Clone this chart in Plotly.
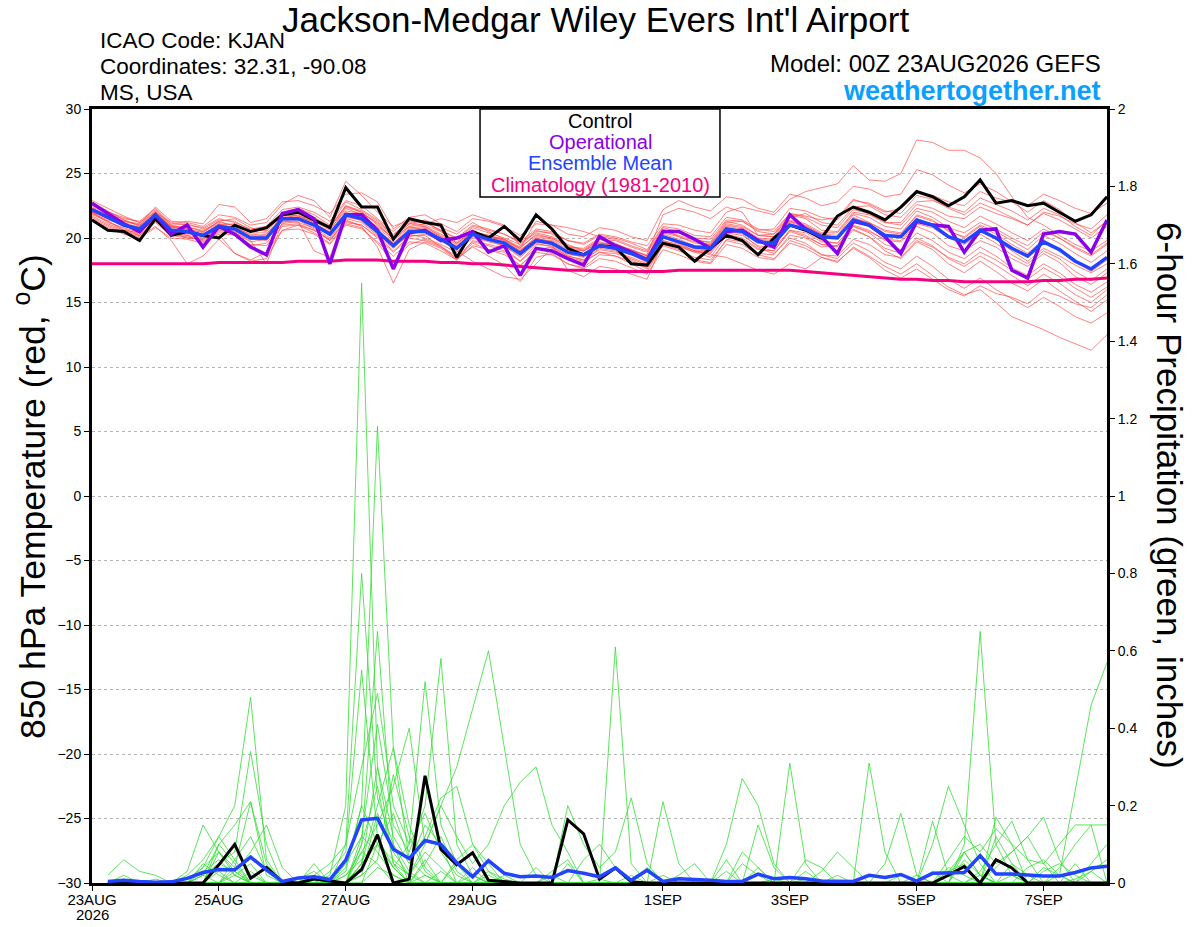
import pandas as pd
import plotly.graph_objects as go

# 6-hourly GEFS steps, 0..384 h
times = pd.date_range("2026-08-23 00:00", periods=65, freq="6h")

tick_dates = ["2026-08-23", "2026-08-25", "2026-08-27", "2026-08-29",
              "2026-09-01", "2026-09-03", "2026-09-05", "2026-09-07"]
tick_labels = ["23AUG", "25AUG", "27AUG", "29AUG",
               "1SEP", "3SEP", "5SEP", "7SEP"]
start_year = "2026"

# 850 hPa temperature (C)
control_t = [
    21.4, 20.6, 20.5, 19.8, 21.5, 20.2, 20.5, 20.2, 20.0, 21.0, 20.5, 20.8, 21.8,
    22.0, 21.4, 20.8, 23.9, 22.4, 22.4, 19.9, 21.5, 21.2, 21.0, 18.5, 20.5, 20.0,
    20.9, 19.8, 21.8, 20.7, 19.2, 18.7, 19.4, 19.3, 18.0, 17.9, 19.6, 19.3, 18.2,
    19.2, 20.2, 19.8, 18.7, 20.0, 21.0, 20.6, 20.0, 21.7, 22.4, 22.0, 21.4, 22.4,
    23.6, 23.2, 22.5, 23.2, 24.5, 22.7, 22.9, 22.5, 22.7, 22.0, 21.3, 21.8, 23.2]

oper_t = [
    22.7, 21.9, 21.1, 20.5, 21.8, 20.3, 21.0, 19.3, 20.9, 20.3, 19.3, 18.7, 21.9,
    22.2, 21.5, 18.0, 21.8, 21.8, 20.6, 17.6, 20.4, 20.6, 19.8, 20.0, 20.5, 18.9,
    19.4, 17.1, 19.2, 19.0, 18.4, 17.9, 20.1, 19.4, 18.9, 18.3, 20.5, 20.5, 19.9,
    19.2, 20.5, 20.6, 19.8, 19.3, 21.8, 20.7, 20.1, 18.8, 21.3, 21.0, 20.1, 18.8,
    21.3, 21.0, 20.9, 18.9, 20.6, 20.7, 17.5, 16.9, 20.3, 20.5, 20.3, 18.9, 21.4]

mean_t = [
    22.2, 21.6, 21.0, 20.7, 21.8, 20.6, 20.5, 20.2, 20.9, 20.7, 20.0, 20.0, 21.5,
    21.5, 21.0, 20.3, 21.8, 21.5, 20.5, 19.4, 20.5, 20.5, 19.9, 19.2, 20.3, 19.9,
    19.6, 18.8, 19.8, 19.6, 18.9, 18.7, 19.4, 19.2, 18.8, 18.3, 20.1, 19.7, 19.3,
    19.2, 20.7, 20.5, 19.7, 19.6, 21.0, 20.7, 20.1, 20.0, 21.4, 21.0, 20.2, 20.1,
    21.4, 21.0, 20.1, 19.7, 20.6, 20.0, 19.2, 18.6, 19.7, 19.1, 18.2, 17.6, 18.5]

clim_t = [
    18.0, 18.0, 18.0, 18.0, 18.0, 18.0, 18.0, 18.0, 18.1, 18.1, 18.1, 18.1, 18.1,
    18.2, 18.2, 18.2, 18.3, 18.3, 18.3, 18.2, 18.2, 18.2, 18.1, 18.1, 18.0, 18.0,
    17.9, 17.8, 17.7, 17.6, 17.5, 17.5, 17.4, 17.4, 17.4, 17.4, 17.4, 17.5, 17.5,
    17.5, 17.5, 17.5, 17.5, 17.5, 17.5, 17.4, 17.3, 17.2, 17.1, 17.0, 16.9, 16.8,
    16.8, 16.7, 16.7, 16.6, 16.6, 16.6, 16.6, 16.6, 16.7, 16.7, 16.8, 16.8, 16.9]

members_t = [
    [22.0, 21.2, 20.8, 20.4, 21.5, 20.9, 20.8, 20.6, 21.2, 21.0, 20.5, 20.7, 21.9,
     22.3, 21.8, 21.0, 22.8, 22.2, 21.4, 20.3, 21.2, 21.0, 20.5, 19.7, 20.8, 20.4,
     20.0, 19.5, 20.6, 20.3, 19.5, 19.0, 19.9, 19.8, 19.3, 18.9, 20.6, 20.4, 19.9,
     19.6, 21.2, 21.3, 20.5, 20.3, 21.6, 21.9, 21.2, 21.0, 22.4, 22.5, 21.8, 21.6,
     22.8, 22.9, 22.4, 22.0, 23.1, 22.6, 22.1, 21.4, 22.3, 21.8, 20.9, 20.2, 21.4],
    [22.4, 21.9, 21.4, 21.0, 22.1, 20.8, 20.9, 20.5, 21.3, 20.9, 20.2, 20.1, 21.7,
     21.9, 21.3, 20.8, 22.5, 22.0, 21.1, 19.9, 20.9, 21.1, 21.5, 21.2, 21.8, 21.4,
     21.0, 19.4, 20.5, 20.4, 19.8, 19.6, 20.3, 20.1, 19.7, 19.4, 21.1, 21.0, 20.6,
     20.4, 22.0, 22.4, 22.1, 21.8, 23.0, 23.6, 23.9, 24.2, 25.6, 24.5, 24.4, 25.0,
     27.6, 27.4, 26.8, 26.8, 26.2, 25.0, 23.2, 21.6, 21.0, 20.2, 19.5, 19.0, 19.8],
    [21.8, 21.3, 20.6, 20.2, 21.3, 20.3, 20.1, 19.8, 20.5, 20.3, 19.5, 19.4, 20.9,
     21.0, 20.6, 19.8, 21.2, 21.0, 20.0, 18.9, 20.0, 19.8, 19.3, 18.6, 19.7, 19.4,
     19.0, 18.2, 19.2, 19.0, 18.4, 18.1, 18.9, 18.6, 18.2, 17.6, 19.4, 19.0, 18.5,
     18.3, 19.8, 19.5, 18.7, 18.4, 19.6, 19.2, 18.5, 18.1, 19.3, 18.6, 17.8, 17.2,
     18.0, 17.1, 16.2, 15.6, 16.0, 15.0, 13.9, 13.4, 12.9, 12.3, 11.8, 11.3, 12.5],
    [22.6, 21.8, 21.3, 21.1, 22.4, 21.3, 21.2, 20.9, 21.8, 21.6, 21.0, 21.2, 22.6,
     23.3, 22.9, 21.6, 24.4, 23.3, 22.0, 20.9, 21.4, 21.2, 20.6, 20.0, 21.0, 20.7,
     20.3, 19.6, 20.4, 20.1, 19.4, 19.1, 19.9, 19.5, 19.1, 18.6, 20.7, 20.1, 19.6,
     19.5, 21.0, 20.8, 20.0, 19.9, 21.3, 20.9, 20.3, 20.2, 21.8, 21.2, 20.6, 20.4,
     21.7, 21.3, 20.6, 20.0, 20.9, 20.3, 19.5, 18.8, 19.9, 19.0, 18.2, 17.4, 18.3],
    [21.5, 20.9, 20.4, 20.1, 20.9, 19.8, 18.0, 18.6, 19.9, 18.8, 18.3, 18.9, 20.6,
     21.0, 20.4, 19.6, 21.1, 20.8, 19.6, 18.1, 19.5, 19.9, 19.4, 18.4, 19.6, 19.1,
     18.9, 17.8, 19.1, 19.3, 18.6, 18.3, 19.2, 19.0, 18.3, 17.7, 19.5, 19.3, 18.9,
     18.5, 20.2, 19.9, 19.1, 19.0, 20.5, 20.1, 19.5, 19.3, 20.6, 20.1, 19.0, 18.4,
     19.7, 19.1, 18.0, 17.3, 18.2, 17.4, 16.5, 15.9, 16.8, 15.9, 15.1, 14.3, 15.2],
    [22.9, 22.3, 21.7, 21.2, 22.0, 21.0, 20.7, 20.4, 21.3, 21.5, 20.8, 20.5, 21.8,
     21.7, 21.4, 20.7, 22.1, 21.9, 21.2, 20.1, 21.1, 21.4, 20.8, 20.3, 21.2, 20.5,
     19.9, 19.3, 20.2, 20.0, 19.3, 19.2, 20.0, 19.6, 19.0, 18.7, 21.8, 22.3, 22.0,
     21.5, 22.4, 22.0, 20.2, 20.1, 21.8, 21.5, 20.6, 20.5, 22.0, 21.8, 21.2, 21.2,
     22.6, 22.3, 21.7, 21.5, 22.4, 21.9, 21.5, 21.0, 22.0, 21.7, 21.1, 20.7, 21.8],
    [22.1, 21.5, 20.9, 20.6, 21.6, 20.5, 20.4, 20.1, 20.7, 20.4, 19.7, 19.9, 21.3,
     21.2, 20.8, 20.0, 21.5, 21.2, 20.2, 19.2, 20.3, 20.0, 19.5, 18.9, 20.0, 19.8,
     19.4, 18.6, 19.7, 19.5, 17.5, 17.0, 17.8, 17.6, 17.2, 16.8, 19.7, 19.4, 18.9,
     18.9, 20.4, 20.2, 19.4, 19.2, 20.6, 20.2, 19.5, 19.4, 20.7, 20.1, 19.2, 18.8,
     20.0, 19.4, 18.4, 17.8, 18.6, 17.9, 17.1, 16.3, 17.2, 16.5, 15.6, 15.0, 16.0],
    [21.9, 21.4, 21.0, 20.9, 21.9, 20.7, 20.6, 20.3, 21.0, 20.8, 20.3, 20.2, 21.6,
     21.5, 21.1, 20.5, 22.0, 21.6, 20.7, 19.6, 20.6, 20.7, 20.1, 19.4, 20.4, 20.1,
     19.7, 19.0, 20.1, 19.9, 19.1, 19.0, 19.7, 19.4, 19.0, 18.5, 20.4, 20.1, 19.7,
     19.5, 21.1, 20.9, 20.2, 20.3, 21.9, 21.7, 21.4, 21.6, 23.0, 22.6, 22.0, 22.3,
     23.5, 23.3, 22.8, 22.5, 23.6, 23.1, 22.8, 22.5, 23.4, 22.9, 22.3, 21.9, 22.7],
    [22.3, 21.7, 21.2, 20.8, 21.7, 20.4, 20.0, 19.9, 20.6, 20.4, 19.8, 18.0, 21.2,
     21.4, 20.7, 19.8, 21.4, 20.9, 19.3, 16.5, 19.1, 19.7, 19.2, 18.3, 19.8, 19.5,
     19.2, 18.2, 19.5, 19.4, 18.7, 18.6, 19.4, 19.1, 18.7, 18.1, 20.0, 19.8, 19.1,
     19.0, 20.6, 20.3, 19.3, 19.0, 20.6, 20.4, 19.7, 19.6, 21.0, 20.6, 19.8, 19.7,
     20.9, 20.4, 19.4, 19.0, 19.8, 19.3, 18.4, 17.8, 18.8, 18.1, 17.0, 16.4, 17.3],
    [22.0, 21.6, 21.1, 20.5, 21.4, 20.6, 20.3, 20.3, 21.0, 21.1, 20.4, 20.4, 21.4,
     21.6, 21.3, 20.6, 22.3, 21.8, 20.8, 19.8, 20.8, 20.9, 20.3, 19.6, 20.6, 20.1,
     19.9, 19.1, 19.9, 19.8, 19.0, 18.8, 19.6, 19.4, 18.9, 18.4, 20.3, 19.9, 19.4,
     19.4, 20.9, 20.7, 19.9, 19.8, 21.2, 20.9, 20.2, 20.0, 21.6, 21.1, 20.3, 20.2,
     21.5, 21.0, 20.0, 19.5, 20.3, 19.6, 18.7, 18.0, 19.0, 18.4, 17.4, 16.7, 17.6],
    [21.7, 21.1, 20.6, 20.4, 21.5, 20.4, 20.2, 19.7, 20.4, 20.2, 19.4, 19.6, 21.1,
     21.3, 19.0, 18.5, 21.9, 21.3, 20.3, 19.3, 20.2, 20.2, 19.3, 18.4, 19.3, 18.6,
     17.9, 16.6, 18.5, 18.8, 18.0, 17.7, 18.7, 18.6, 18.0, 17.4, 19.5, 19.1, 18.3,
     18.1, 19.9, 19.7, 18.8, 18.7, 20.2, 20.0, 19.3, 19.4, 20.9, 20.5, 19.9, 19.8,
     21.1, 20.8, 20.0, 19.7, 20.5, 19.9, 19.0, 18.2, 19.2, 18.6, 17.9, 17.3, 18.0],
    [22.5, 22.0, 21.5, 21.3, 22.3, 21.1, 21.3, 21.1, 22.6, 22.4, 21.2, 21.5, 22.8,
     22.9, 22.5, 21.9, 23.4, 23.5, 22.8, 20.7, 21.6, 21.8, 21.1, 20.5, 21.5, 21.3,
     20.9, 20.2, 21.1, 21.0, 20.3, 20.1, 20.8, 20.6, 20.1, 19.8, 22.2, 22.9, 22.4,
     22.1, 23.2, 23.0, 22.3, 22.0, 23.4, 23.1, 22.5, 22.8, 24.0, 23.8, 23.2, 23.4,
     25.3, 24.9, 24.1, 23.5, 24.2, 23.6, 22.8, 22.0, 22.9, 22.2, 21.2, 20.4, 21.3],
    [21.6, 21.0, 20.5, 20.2, 21.2, 20.2, 20.0, 19.9, 20.8, 20.6, 20.1, 20.0, 21.0,
     21.1, 20.6, 19.9, 21.3, 21.0, 20.1, 19.0, 20.1, 20.3, 19.8, 19.0, 18.2, 17.6,
     17.0, 16.8, 18.0, 19.2, 18.5, 18.2, 18.9, 18.8, 18.4, 17.9, 19.8, 19.4, 19.0,
     18.8, 20.3, 20.0, 19.2, 18.8, 20.0, 19.6, 18.7, 18.4, 19.6, 19.0, 18.1, 17.6,
     18.6, 17.8, 16.8, 16.1, 16.9, 16.0, 15.3, 14.6, 15.4, 14.7, 13.9, 13.4, 14.2],
    [22.7, 22.1, 21.4, 20.9, 21.9, 20.9, 20.7, 20.2, 21.1, 20.8, 20.0, 19.8, 21.5,
     21.8, 21.2, 20.4, 21.8, 21.6, 20.9, 20.0, 21.1, 20.9, 20.1, 19.3, 20.2, 19.9,
     19.6, 18.9, 20.0, 19.7, 18.9, 18.6, 19.5, 19.3, 18.8, 18.3, 20.2, 19.7, 19.2,
     19.2, 20.8, 20.6, 19.8, 19.7, 21.3, 21.0, 20.3, 20.0, 21.5, 21.2, 20.5, 20.3,
     21.8, 21.4, 20.5, 20.1, 21.0, 20.5, 19.8, 19.1, 20.2, 19.6, 18.8, 18.1, 19.0],
    [22.2, 21.7, 21.3, 21.0, 22.0, 21.2, 21.0, 20.8, 21.5, 21.2, 20.7, 20.9, 22.2,
     22.4, 22.0, 21.3, 22.9, 22.5, 21.5, 20.5, 21.5, 21.3, 20.5, 19.6, 20.5, 20.2,
     19.8, 19.0, 20.0, 19.6, 18.8, 18.5, 19.3, 19.2, 18.7, 18.2, 20.0, 19.6, 19.0,
     19.0, 20.6, 20.4, 19.7, 19.5, 21.0, 20.6, 19.8, 19.6, 20.9, 20.4, 19.5, 19.1,
     20.4, 19.8, 18.9, 18.4, 19.3, 18.6, 17.7, 17.1, 18.0, 17.3, 16.4, 15.8, 16.6],
    [21.4, 20.8, 20.3, 20.0, 20.8, 20.0, 19.9, 19.6, 20.3, 18.8, 18.2, 18.4, 20.6,
     20.7, 20.3, 19.5, 21.0, 20.7, 19.7, 18.6, 19.7, 19.6, 19.0, 18.3, 19.4, 19.1,
     18.7, 17.9, 18.9, 18.7, 18.0, 17.6, 18.4, 18.2, 17.7, 17.2, 19.1, 18.7, 18.2,
     18.0, 19.5, 19.2, 18.5, 18.3, 19.8, 19.4, 18.7, 18.6, 19.9, 19.5, 18.7, 18.5,
     19.8, 19.3, 18.5, 18.0, 18.9, 18.3, 17.5, 16.8, 17.7, 17.0, 16.1, 15.4, 16.2],
    [22.8, 22.0, 21.6, 21.2, 22.2, 21.0, 21.1, 20.7, 21.4, 21.3, 20.6, 20.7, 22.0,
     22.0, 21.6, 20.9, 22.5, 22.1, 21.3, 20.2, 21.3, 21.2, 20.6, 19.9, 20.9, 20.6,
     20.3, 19.7, 20.7, 20.5, 19.8, 19.5, 20.2, 20.0, 19.6, 19.1, 20.9, 20.7, 20.2,
     20.1, 21.6, 21.4, 20.7, 20.5, 21.9, 21.6, 21.0, 20.8, 22.2, 21.9, 21.2, 21.0,
     22.3, 22.0, 21.3, 20.8, 21.7, 21.1, 20.4, 19.8, 20.7, 20.0, 19.2, 18.6, 19.5],
    [21.9, 21.3, 20.7, 20.3, 21.3, 20.5, 20.2, 20.0, 20.9, 20.5, 19.9, 19.9, 21.3,
     21.5, 21.1, 20.3, 21.7, 21.4, 20.4, 19.4, 20.4, 20.5, 19.8, 19.1, 20.1, 19.7,
     19.4, 18.5, 19.6, 19.3, 18.6, 18.3, 19.1, 18.9, 18.5, 18.0, 19.8, 19.5, 19.0,
     18.7, 18.5, 18.0, 17.5, 17.2, 18.0, 17.6, 18.5, 18.2, 19.2, 18.5, 17.5, 16.9,
     17.6, 16.8, 16.0, 15.5, 16.3, 15.7, 15.4, 14.9, 15.9, 15.5, 14.9, 14.6, 15.6],
    [22.3, 21.8, 21.2, 20.6, 21.6, 20.7, 20.6, 20.5, 21.1, 20.6, 20.0, 20.3, 21.7,
     21.7, 21.2, 20.3, 21.6, 21.4, 20.6, 19.6, 20.7, 20.8, 20.2, 19.5, 20.5, 20.2,
     19.8, 19.2, 20.3, 20.0, 19.3, 19.0, 19.6, 19.5, 19.1, 18.6, 20.5, 20.2, 19.8,
     19.7, 21.3, 21.0, 20.2, 20.1, 21.4, 21.1, 20.4, 20.4, 21.9, 21.6, 20.9, 20.7,
     22.1, 21.6, 20.8, 20.4, 21.2, 20.7, 20.0, 19.4, 20.5, 20.0, 19.3, 18.7, 19.6],
    [22.0, 21.5, 21.0, 20.7, 21.8, 20.9, 20.5, 20.1, 20.8, 20.9, 20.5, 20.6, 21.8,
     22.1, 21.5, 20.8, 22.4, 22.0, 21.0, 20.0, 20.9, 20.6, 19.9, 19.2, 20.3, 20.2,
     19.9, 19.2, 21.3, 21.0, 20.8, 20.5, 20.1, 19.9, 19.4, 19.0, 20.8, 20.5, 20.0,
     19.9, 21.4, 21.3, 20.6, 20.7, 22.3, 22.1, 21.6, 21.4, 22.9, 22.7, 22.1, 21.9,
     23.3, 23.0, 22.3, 21.8, 22.7, 22.2, 21.6, 21.0, 21.9, 21.4, 20.7, 20.0, 20.9],
]

# 6-hour precipitation (inches), steps 6..384 h
control_p = [
    0, 0, 0, 0, 0, 0, 0, 0.047, 0.1, 0.012, 0.04, 0.003, 0, 0.01, 0.005, 0,
    0.035, 0.125, 0, 0.01, 0.277, 0.087, 0.047, 0.078, 0.007, 0.003, 0, 0, 0, 0.163, 0.127, 0.01,
    0.039, 0.003, 0, 0, 0, 0, 0, 0, 0, 0, 0, 0, 0, 0, 0, 0,
    0, 0, 0, 0, 0, 0.02, 0.043, 0, 0.06, 0.039, 0, 0, 0, 0, 0, 0]

mean_p = [
    0.004, 0.007, 0.004, 0.002, 0.003, 0.012, 0.027, 0.035, 0.034, 0.067, 0.034, 0.004, 0.013, 0.016, 0.009, 0.059,
    0.163, 0.167, 0.087, 0.063, 0.11, 0.1, 0.052, 0.016, 0.058, 0.025, 0.016, 0.018, 0.014, 0.032, 0.025, 0.016,
    0.039, 0.007, 0.033, 0.004, 0.011, 0.01, 0.007, 0.004, 0.004, 0.023, 0.011, 0.014, 0.011, 0.005, 0.005, 0.004,
    0.02, 0.014, 0.022, 0.005, 0.025, 0.027, 0.027, 0.071, 0.023, 0.023, 0.02, 0.018, 0.018, 0.027, 0.039, 0.043]

members_p = [
    [0, 0.01, 0, 0, 0, 0, 0.02, 0.05, 0.03, 0, 0, 0, 0.01, 0, 0.02, 0.2,
     1.55, 0.3, 0.05, 0.02, 0.08, 0.04, 0, 0, 0.03, 0.01, 0, 0, 0.02, 0, 0, 0.01,
     0, 0, 0, 0.02, 0, 0, 0, 0, 0, 0.04, 0, 0, 0.01, 0, 0, 0,
     0, 0, 0.02, 0, 0, 0.03, 0.05, 0, 0, 0.02, 0, 0, 0, 0.01, 0.03, 0],
    [0, 0, 0, 0, 0, 0.01, 0.04, 0.08, 0.02, 0, 0, 0, 0, 0, 0, 0.03,
     0.2, 1.18, 0.35, 0.06, 0.02, 0, 0.05, 0.02, 0, 0, 0, 0.04, 0, 0, 0, 0,
     0, 0, 0, 0, 0.02, 0.05, 0, 0, 0, 0, 0.01, 0, 0, 0, 0, 0,
     0, 0, 0, 0, 0.03, 0, 0.06, 0.02, 0, 0, 0, 0.04, 0.02, 0, 0, 0],
    [0, 0, 0, 0, 0, 0.02, 0.06, 0.12, 0.2, 0.48, 0.06, 0, 0, 0.01, 0, 0.1,
     0.8, 0.22, 0.1, 0.03, 0, 0, 0, 0.02, 0, 0, 0, 0, 0, 0.05, 0, 0,
     0, 0.02, 0, 0, 0, 0, 0, 0.03, 0, 0, 0, 0, 0, 0, 0.02, 0,
     0, 0, 0, 0, 0, 0, 0, 0.02, 0, 0, 0, 0, 0, 0.05, 0, 0],
    [0, 0, 0, 0.01, 0, 0, 0, 0.05, 0.08, 0.34, 0.1, 0, 0, 0, 0.03, 0.08,
     0.55, 0.12, 0.04, 0, 0.02, 0, 0, 0, 0, 0, 0, 0, 0, 0, 0, 0,
     0.61, 0.05, 0, 0, 0, 0, 0, 0, 0, 0, 0, 0, 0, 0, 0, 0,
     0, 0, 0, 0, 0, 0.04, 0.02, 0, 0, 0, 0, 0, 0, 0, 0, 0],
    [0, 0, 0, 0, 0, 0.03, 0.15, 0.08, 0.04, 0.21, 0.02, 0, 0, 0.02, 0.05, 0.1,
     0.3, 0.49, 0.2, 0.1, 0.52, 0.15, 0.05, 0, 0.02, 0, 0, 0, 0.03, 0.06, 0, 0,
     0, 0, 0, 0, 0, 0, 0, 0, 0.05, 0.02, 0, 0, 0, 0, 0, 0,
     0, 0, 0, 0.02, 0, 0, 0, 0, 0, 0, 0, 0, 0, 0, 0, 0],
    [0, 0, 0, 0, 0, 0, 0.02, 0.1, 0.05, 0, 0, 0, 0, 0, 0, 0.05,
     0.12, 0.41, 0.15, 0.08, 0.2, 0.58, 0.1, 0.02, 0, 0, 0, 0, 0, 0, 0, 0,
     0, 0, 0, 0, 0, 0, 0, 0, 0, 0, 0, 0.31, 0.05, 0, 0, 0,
     0, 0, 0, 0, 0, 0.03, 0.08, 0.02, 0, 0, 0, 0, 0, 0, 0, 0],
    [0, 0.02, 0, 0, 0, 0, 0, 0, 0.06, 0.12, 0.03, 0, 0, 0, 0, 0.02,
     0.08, 0.15, 0.25, 0.4, 0.1, 0.2, 0.3, 0.45, 0.6, 0.35, 0.1, 0.02, 0, 0, 0, 0,
     0, 0, 0, 0, 0, 0, 0, 0, 0, 0, 0, 0, 0, 0, 0, 0,
     0, 0, 0, 0, 0, 0, 0, 0, 0.12, 0.05, 0, 0, 0, 0, 0, 0],
    [0, 0, 0, 0, 0, 0, 0, 0.03, 0, 0, 0, 0, 0, 0.02, 0, 0,
     0.05, 0.1, 0.04, 0, 0, 0.03, 0, 0, 0, 0, 0, 0, 0, 0, 0, 0,
     0, 0, 0, 0, 0, 0, 0, 0, 0, 0, 0, 0, 0, 0, 0, 0,
     0, 0, 0, 0, 0, 0, 0.1, 0.65, 0.1, 0.02, 0, 0, 0, 0, 0, 0],
    [0, 0, 0, 0, 0, 0, 0.02, 0, 0.04, 0, 0, 0, 0, 0, 0, 0,
     0.1, 0.25, 0.05, 0, 0, 0, 0, 0, 0, 0, 0, 0, 0, 0, 0, 0,
     0, 0, 0, 0, 0, 0, 0, 0, 0, 0, 0, 0, 0, 0, 0, 0,
     0, 0, 0, 0, 0, 0, 0, 0, 0, 0, 0, 0, 0.02, 0.24, 0.46, 0.57],
    [0, 0, 0, 0, 0, 0, 0, 0.05, 0.1, 0.02, 0, 0, 0, 0, 0, 0,
     0.05, 0.3, 0.12, 0.05, 0.15, 0.1, 0, 0, 0, 0, 0, 0, 0, 0, 0, 0,
     0, 0, 0, 0.21, 0.05, 0, 0, 0, 0, 0, 0, 0, 0.03, 0, 0, 0,
     0.31, 0.08, 0, 0, 0, 0, 0, 0, 0, 0, 0, 0, 0, 0, 0, 0],
    [0, 0, 0, 0, 0, 0, 0.05, 0.02, 0, 0, 0, 0, 0, 0, 0, 0,
     0.02, 0.18, 0.08, 0.02, 0.1, 0.2, 0.12, 0.05, 0.1, 0.2, 0.26, 0.3, 0.15, 0.08, 0, 0,
     0, 0, 0, 0, 0, 0, 0, 0, 0, 0, 0, 0, 0, 0, 0, 0,
     0, 0, 0, 0, 0.1, 0.25, 0.15, 0.05, 0, 0, 0, 0, 0, 0, 0, 0],
    [0, 0, 0, 0, 0, 0, 0, 0, 0.03, 0.08, 0.15, 0.04, 0, 0, 0, 0,
     0.08, 0.05, 0, 0, 0.05, 0.12, 0.03, 0, 0, 0, 0, 0, 0, 0, 0, 0,
     0, 0, 0, 0, 0, 0, 0, 0.1, 0.27, 0.2, 0.05, 0, 0, 0, 0, 0,
     0, 0, 0, 0, 0, 0, 0, 0, 0.04, 0.08, 0.12, 0.05, 0, 0, 0, 0],
    [0.02, 0.06, 0.03, 0.02, 0, 0, 0, 0.08, 0.03, 0, 0, 0, 0, 0.05, 0, 0,
     0.12, 0.08, 0.02, 0, 0.06, 0, 0, 0.04, 0, 0, 0, 0, 0, 0, 0, 0,
     0, 0, 0, 0, 0, 0, 0, 0, 0, 0, 0, 0, 0, 0, 0, 0,
     0, 0.05, 0.18, 0.02, 0, 0, 0, 0, 0.17, 0.1, 0, 0, 0, 0, 0, 0],
    [0, 0, 0, 0, 0, 0, 0.04, 0.12, 0.06, 0, 0, 0, 0, 0, 0, 0.02,
     0.06, 0.1, 0.04, 0.1, 0.18, 0.08, 0.02, 0, 0, 0, 0, 0, 0, 0, 0, 0,
     0, 0, 0, 0, 0, 0, 0, 0, 0, 0, 0, 0, 0, 0, 0, 0,
     0, 0, 0, 0, 0.16, 0.02, 0, 0.03, 0.1, 0.16, 0.06, 0, 0.04, 0.1, 0.15, 0.15],
    [0, 0, 0, 0, 0, 0, 0, 0, 0, 0.03, 0, 0, 0, 0, 0, 0.04,
     0.2, 0.1, 0.06, 0.02, 0, 0, 0, 0, 0, 0, 0, 0, 0, 0, 0, 0,
     0, 0, 0, 0, 0, 0, 0, 0.06, 0, 0.15, 0.04, 0, 0, 0, 0, 0,
     0, 0, 0, 0, 0, 0.02, 0.08, 0.1, 0.05, 0.08, 0.12, 0.17, 0.06, 0, 0, 0],
    [0, 0, 0, 0, 0, 0, 0, 0, 0.02, 0.05, 0, 0, 0, 0, 0, 0,
     0.05, 0.2, 0.35, 0.15, 0.04, 0, 0.06, 0.1, 0.05, 0, 0, 0, 0, 0.2, 0.1, 0.04,
     0.08, 0.22, 0.05, 0, 0, 0, 0, 0, 0, 0, 0, 0, 0, 0, 0, 0,
     0, 0, 0, 0, 0, 0, 0, 0, 0, 0, 0, 0.03, 0.05, 0.02, 0, 0],
    [0, 0, 0, 0, 0, 0, 0, 0, 0, 0, 0, 0, 0, 0, 0, 0,
     0.1, 0.65, 0.1, 0, 0, 0, 0, 0, 0, 0.02, 0, 0, 0, 0, 0, 0,
     0, 0, 0, 0, 0, 0, 0, 0, 0, 0, 0, 0, 0, 0, 0, 0,
     0, 0, 0, 0, 0, 0.06, 0.12, 0.08, 0.14, 0.1, 0.06, 0.05, 0.1, 0.15, 0.15, 0],
    [0, 0, 0, 0, 0, 0, 0, 0.1, 0.15, 0.21, 0.05, 0, 0, 0, 0, 0,
     0, 0.1, 0.18, 0.06, 0.12, 0.22, 0.25, 0.1, 0.03, 0, 0, 0, 0, 0, 0, 0,
     0, 0, 0.04, 0, 0, 0, 0, 0, 0, 0, 0, 0, 0, 0, 0, 0,
     0, 0, 0, 0, 0, 0, 0, 0, 0, 0, 0.04, 0.06, 0.02, 0, 0.05, 0.1],
    [0, 0, 0, 0, 0, 0, 0, 0, 0, 0, 0, 0, 0.01, 0.03, 0, 0,
     0, 0.04, 0.02, 0, 0, 0, 0, 0, 0, 0, 0, 0, 0, 0, 0.06, 0.1,
     0.04, 0, 0, 0, 0, 0, 0, 0, 0.08, 0.04, 0, 0, 0, 0.03, 0.08, 0.04,
     0, 0, 0, 0, 0, 0, 0, 0, 0, 0.05, 0.02, 0, 0, 0, 0.03, 0.06],
    [0, 0, 0, 0, 0, 0, 0.03, 0.06, 0.02, 0, 0, 0, 0, 0, 0, 0,
     0.02, 0.06, 0.28, 0.12, 0.03, 0, 0, 0, 0, 0, 0, 0, 0, 0, 0, 0,
     0, 0, 0, 0, 0, 0, 0, 0, 0, 0, 0, 0, 0.06, 0.04, 0, 0,
     0, 0, 0, 0, 0, 0, 0.08, 0.02, 0, 0, 0, 0, 0, 0, 0, 0],
]

FONT = "Liberation Sans, Arial, Helvetica, sans-serif"
RED = "rgba(255,70,70,0.85)"
GREEN = "#33dd33"
PURPLE = "#8a00e8"
BLUE = "#2244ff"
PINK = "#f5007f"

fig = go.Figure()

for m in members_t:
    fig.add_trace(go.Scatter(x=times, y=m, mode="lines",
                             line=dict(color=RED, width=0.8)))
for m in members_p:
    fig.add_trace(go.Scatter(x=times[1:], y=m, mode="lines", yaxis="y2",
                             line=dict(color=GREEN, width=0.8)))

fig.add_trace(go.Scatter(x=times, y=clim_t, mode="lines",
                         line=dict(color=PINK, width=3)))
fig.add_trace(go.Scatter(x=times[1:], y=control_p, mode="lines", yaxis="y2",
                         line=dict(color="black", width=3)))
fig.add_trace(go.Scatter(x=times[1:], y=mean_p, mode="lines", yaxis="y2",
                         line=dict(color=BLUE, width=3.5)))
fig.add_trace(go.Scatter(x=times, y=control_t, mode="lines",
                         line=dict(color="black", width=3)))
fig.add_trace(go.Scatter(x=times, y=oper_t, mode="lines",
                         line=dict(color=PURPLE, width=3.5)))
fig.add_trace(go.Scatter(x=times, y=mean_t, mode="lines",
                         line=dict(color=BLUE, width=3.5)))

# legend box: white rectangle + one line of text per entry
legend_rows = [("Control", "black", 0.9845),
               ("Operational", PURPLE, 0.9574),
               ("Ensemble Mean", BLUE, 0.9302),
               ("Climatology (1981-2010)", PINK, 0.9018)]

notes = [
    dict(text="Jackson-Medgar Wiley Evers Int'l Airport", x=0.4956, y=1.116,
         xanchor="center", yanchor="middle", font=dict(size=35)),
    dict(text="ICAO Code: KJAN", x=0.0059, y=1.0879, xanchor="left",
         yanchor="middle", font=dict(size=22.5)),
    dict(text="Coordinates: 32.31, -90.08", x=0.0059, y=1.0543, xanchor="left",
         yanchor="middle", font=dict(size=22.5)),
    dict(text="MS, USA", x=0.0059, y=1.0207, xanchor="left",
         yanchor="middle", font=dict(size=22.5)),
    dict(text="Model: 00Z 23AUG2026 GEFS", x=0.9961, y=1.0585, xanchor="right",
         yanchor="middle", font=dict(size=24)),
    dict(text="<b>weathertogether.net</b>", x=0.9961, y=1.0235, xanchor="right",
         yanchor="middle", font=dict(size=27, color="#0aa0ff")),
    dict(text="850 hPa Temperature (red, <sup>o</sup>C)", x=-0.0611, y=0.5,
         xanchor="center", yanchor="middle", textangle=-90,
         font=dict(size=35.5)),
    dict(text="6-hour Precipitation (green, inches)", x=1.062, y=0.5,
         xanchor="center", yanchor="middle", textangle=90,
         font=dict(size=35)),
    dict(text=start_year, x=0.0, y=-0.0405, xanchor="center",
         yanchor="middle", font=dict(size=15)),
]
for label, colour, ypos in legend_rows:
    notes.append(dict(text=label, x=0.5005, y=ypos, xanchor="center",
                      yanchor="middle", font=dict(size=20, color=colour)))
for n in notes:
    n.update(xref="paper", yref="paper", showarrow=False)

fig.update_layout(
    width=1200, height=927,
    margin=dict(l=92, r=93, t=109, b=44),
    paper_bgcolor="white", plot_bgcolor="white",
    showlegend=False,
    font=dict(family=FONT, color="black"),
    annotations=notes,
    shapes=[dict(type="rect", xref="paper", yref="paper",
                 x0=0.3823, x1=0.6187, y0=0.8863, y1=1.0,
                 fillcolor="white", line=dict(color="black", width=1.5),
                 layer="above")],
    xaxis=dict(
        type="date", range=["2026-08-23 00:00", "2026-09-08 00:00"],
        tickvals=tick_dates, ticktext=tick_labels,
        ticks="outside", ticklen=5, tickcolor="black",
        showline=True, linewidth=3, linecolor="black", mirror=True,
        showgrid=False, tickfont=dict(size=15), automargin=False,
        ticklabelstandoff=-4,
    ),
    yaxis=dict(
        range=[-30, 30], tick0=-30, dtick=5,
        ticks="outside", ticklen=5, tickcolor="black",
        showline=True, linewidth=3, linecolor="black",
        showgrid=True, gridcolor="#b4b4b4", griddash="dot", gridwidth=1,
        zeroline=False, tickfont=dict(size=14), automargin=False,
    ),
    yaxis2=dict(
        range=[0, 2], tick0=0, dtick=0.2, overlaying="y", side="right",
        ticks="outside", ticklen=5, tickcolor="black",
        showline=True, linewidth=3, linecolor="black",
        showgrid=False, zeroline=False, tickfont=dict(size=14),
        automargin=False,
    ),
)

fig.write_html("out.html", config={"displayModeBar": False},
               post_script="document.body.style.margin='0px';")
